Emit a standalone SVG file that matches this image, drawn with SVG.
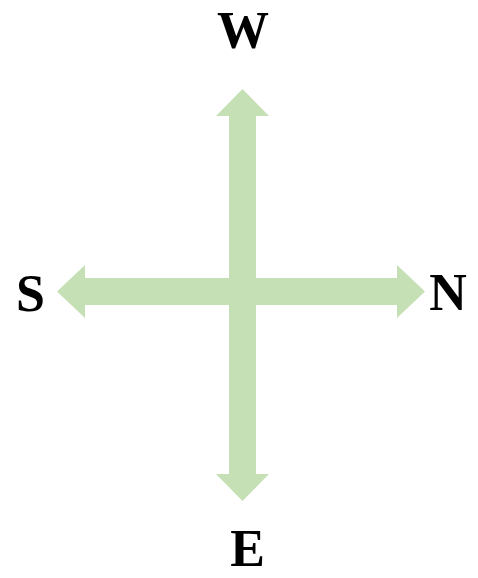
<svg xmlns="http://www.w3.org/2000/svg" width="478" height="578" viewBox="0 0 478 578">
<style>
.lbl{font-family:"Liberation Serif","Times New Roman",serif;font-weight:bold;font-size:52px;fill:#000;text-anchor:middle}
.arr{fill:#C5E0B4}
</style>
<g id="connectors">
<polygon class="arr" points="242.5,89 269,116 256,116 256,474 269,474 242.5,501 216,474 229,474 229,116 216,116"/>
<polygon class="arr" points="57,291.5 85,265 85,278 397,278 397,265 425,291.5 397,318 397,305 85,305 85,318"/>
</g>
<g id="W"><text class="lbl" x="243" y="48">W</text></g>
<g id="S"><text class="lbl" x="30.5" y="311">S</text></g>
<g id="N"><text class="lbl" x="448" y="310">N</text></g>
<g id="E"><text class="lbl" x="247.5" y="566">E</text></g>
</svg>
